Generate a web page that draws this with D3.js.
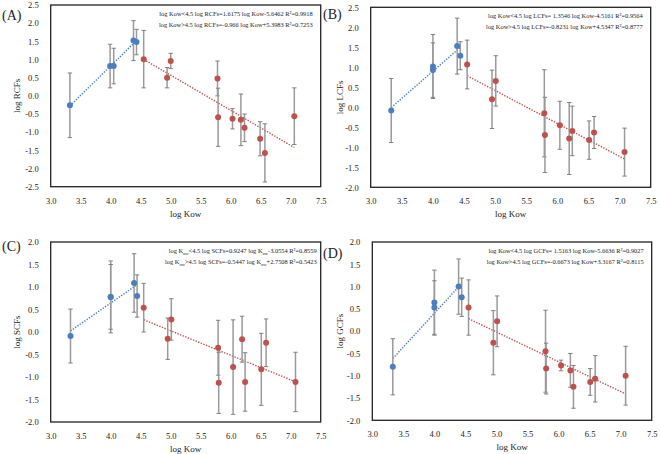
<!DOCTYPE html>
<html>
<head>
<meta charset="utf-8">
<script src="https://cdn.jsdelivr.net/npm/d3@7"></script>
<style>
  body { margin: 0; background: #fff; }
  text { font-family: "Liberation Serif", "Times New Roman", serif; fill: #222; }
</style>
</head>
<body>
<svg id="mainsvg"></svg>
<script>
// x values (log Kow); panel A has the two 4.0 points slightly apart
const kowA = [3.32, 3.99, 4.05, 4.38, 4.43, 4.55, 4.94, 5.0, 5.78, 5.79, 6.03, 6.17, 6.23, 6.49, 6.57, 7.06];
const kow  = [3.33, 4.0, 4.0, 4.39, 4.44, 4.55, 4.95, 5.01, 5.79, 5.8, 6.04, 6.19, 6.24, 6.51, 6.59, 7.08];

const rcf    = [-0.26, 0.82, 0.82, 1.52, 1.48, 1.01, 0.5, 0.96, 0.48, -0.59, -0.63, -0.66, -0.88, -1.18, -1.57, -0.56];
const rcfErr = [0.89, 0.6, 0.49, 0.55, 0.35, 0.79, 0.28, 0.21, 0.48, 0.8, 0.28, 0.71, 0.38, 0.47, 0.8, 0.78];
const lcf    = [-0.08, 1.02, 0.93, 1.53, 1.29, 1.07, 0.2, 0.66, -0.15, -0.69, -0.45, -0.78, -0.59, -0.82, -0.63, -1.12];
const lcfErr = [0.8, 0.8, 0.68, 0.7, 0.35, 0.61, 0.73, 0.63, 1.09, 0.94, 0.6, 0.9, 0.62, 0.48, 0.4, 0.6];
const scf    = [-0.09, 0.78, 0.78, 1.09, 0.8, 0.54, -0.15, 0.28, -0.35, -1.13, -0.78, -0.16, -1.11, -0.83, -0.24, -1.11];
const scfErr = [0.6, 0.8, 0.72, 0.65, 0.47, 0.54, 0.46, 0.46, 0.61, 0.68, 1.05, 0.51, 0.65, 0.8, 0.53, 0.66];
const gcf    = [-0.8, 0.64, 0.53, 1.0, 0.76, 0.53, -0.26, 0.22, -0.45, -0.84, -0.77, -0.88, -1.25, -1.14, -1.07, -1.0];
const gcfErr = [0.63, 0.73, 0.6, 0.62, 0.43, 0.62, 0.72, 0.57, 0.92, 0.57, 0.12, 0.38, 0.48, 0.3, 0.52, 0.66];

// regression [slope, intercept] for log Kow<4.5 and >4.5
const fitLow  = [[1.6175, -5.6462], [1.3546, -4.5161], [0.9247, -3.0554], [1.5163, -5.6636]];
const fitHigh = [[-0.966, 5.3983], [-0.8231, 4.5347], [-0.5447, 2.7508], [-0.6673, 3.3167]];

const panelLabels = ["(A)", "(B)", "(C)", "(D)"];
const yTitles = ["log RCFs", "log LCFs", "log SCFs", "log GCFs"];
const yDomains = [[-2.5, 2.5], [-2.0, 2.5], [-2.0, 2.0], [-2.0, 2.0]];
const xDomain = [3.0, 7.5];
const eqLow = [
  "log Kow<4.5  log RCFs=1.6175 log Kow-5.6462 R²=0.9918",
  "log Kow<4.5 log LCFs= 1.3546 log Kow-4.5161 R²=0.9564",
  null,
  "log Kow<4.5  log GCFs= 1.5163 log Kow-5.6636 R²=0.9027"
];
const eqHigh = [
  "log Kow>4.5  log RCFs=-0.966 log Kow+5.3983 R²=0.7253",
  "log Kow>4.5 log LCFs=-0.8231 log Kow+4.5347 R²=0.8777",
  null,
  "log Kow>4.5  log GCFs=-0.6673 log Kow+3.3167 R²=0.8115"
];

const svgWidth = 660, svgHeight = 454;
const blue = "#4a7ebf", red = "#c0504d";
let mainsvg = d3.select("#mainsvg").attr("width", svgWidth).attr("height", svgHeight);

// plot boxes [left, top, right, bottom]
const boxes = [
  [50.7, 5, 320.7, 186.7],
  [370.7, 7.3, 650.7, 187.3],
  [50.7, 242, 320.7, 422],
  [372.3, 242, 651.7, 420.3]
];
const panels = [
  {x: kowA, y: rcf, e: rcfErr},
  {x: kow, y: lcf, e: lcfErr},
  {x: kow, y: scf, e: scfErr},
  {x: kow, y: gcf, e: gcfErr}
];
const labelPos = [[2, 20], [323, 19], [2, 251], [323, 258]];
const yTitleX = [17, 340, 17, 340];

panels.forEach((p, i) => {
  const [l, t, r, b] = boxes[i];
  const scaleX = d3.scaleLinear().domain(xDomain).range([l, r]);
  const scaleY = d3.scaleLinear().domain(yDomains[i]).range([b, t]);
  const g = mainsvg.append("g");
  const fmt = d => d.toFixed(1);

  const yTicks = d3.range(yDomains[i][0], yDomains[i][1] + 0.01, 0.5);
  const xTicks = d3.range(xDomain[0], xDomain[1] + 0.01, 0.5);

  g.append("g").attr("transform", `translate(${l - 9},0)`)
    .call(d3.axisLeft(scaleY).tickValues(yTicks).tickSize(0).tickFormat(fmt))
    .call(a => a.select(".domain").remove())
    .selectAll("text").style("font-family", "Liberation Serif").style("font-size", "8.5px").attr("fill", "#222");
  g.append("g").attr("transform", `translate(0,${b + 8})`)
    .call(d3.axisBottom(scaleX).tickValues(xTicks).tickSize(0).tickFormat(fmt))
    .call(a => a.select(".domain").remove())
    .selectAll("text").style("font-family", "Liberation Serif").style("font-size", "8.5px").attr("fill", "#222");

  g.append("rect").attr("x", l).attr("y", t).attr("width", r - l).attr("height", b - t)
    .attr("fill", "none").attr("stroke", "#222").attr("stroke-width", 1.3);

  g.append("text").attr("x", (l + r) / 2).attr("y", b + 30).attr("text-anchor", "middle")
    .style("font-size", "9px").text("log Kow");
  g.append("text").attr("transform", `translate(${yTitleX[i]},${(t + b) / 2}) rotate(-90)`)
    .attr("text-anchor", "middle").attr("dy", "0.35em").style("font-size", "9px").text(yTitles[i]);
  g.append("text").attr("x", labelPos[i][0]).attr("y", labelPos[i][1])
    .style("font-size", "14px").text(panelLabels[i]);

  // equations
  const eq = g.append("g").style("font-size", "6.4px");
  if (eqLow[i]) {
    eq.append("text").attr("x", r - 8).attr("y", t + 11).attr("text-anchor", "end").text(eqLow[i]);
    eq.append("text").attr("x", r - 8).attr("y", t + 22).attr("text-anchor", "end").text(eqHigh[i]);
  } else {
    const lines = [
      ["<4.5  log SCFs=0.9247 log K", "-3.0554   R²=0.8559"],
      [">4.5  log SCFs=-0.5447 log K", "+2.7508 R²=0.5423"]
    ];
    lines.forEach((ln, k) => {
      const tx = eq.append("text").attr("x", r - 4).attr("y", t + 11 + k * 11).attr("text-anchor", "end");
      tx.append("tspan").text("log K");
      tx.append("tspan").attr("dy", 1.5).style("font-size", "4.5px").text("ow");
      tx.append("tspan").attr("dy", -1.5).text(ln[0]);
      tx.append("tspan").attr("dy", 1.5).style("font-size", "4.5px").text("ow");
      tx.append("tspan").attr("dy", -1.5).text(ln[1]);
    });
  }

  const pts = p.x.map((x, j) => ({x: x, y: p.y[j], e: p.e[j], low: x < 4.5}));

  // trend lines
  const lowPts = pts.filter(d => d.low), highPts = pts.filter(d => !d.low);
  [[lowPts, fitLow[i], blue], [highPts, fitHigh[i], red]].forEach(([s, f, c]) => {
    const ext = d3.extent(s, d => d.x);
    g.append("line")
      .attr("x1", scaleX(ext[0])).attr("y1", scaleY(f[0] * ext[0] + f[1]))
      .attr("x2", scaleX(ext[1])).attr("y2", scaleY(f[0] * ext[1] + f[1]))
      .attr("stroke", c).attr("stroke-width", 1.4).attr("stroke-dasharray", "1.4,1.4");
  });

  // error bars
  const eb = g.append("g").attr("stroke", "#9a9a9a");
  pts.forEach(d => {
    const cx = scaleX(d.x);
    eb.append("line").attr("x1", cx).attr("x2", cx)
      .attr("y1", scaleY(d.y + d.e)).attr("y2", scaleY(d.y - d.e)).attr("stroke-width", 1.5);
    [d.y + d.e, d.y - d.e].forEach(v => {
      eb.append("line").attr("x1", cx - 2.2).attr("x2", cx + 2.2)
        .attr("y1", scaleY(v)).attr("y2", scaleY(v)).attr("stroke", "#777").attr("stroke-width", 0.9);
    });
  });

  g.append("g").selectAll("circle").data(pts).enter().append("circle")
    .attr("cx", d => scaleX(d.x)).attr("cy", d => scaleY(d.y)).attr("r", 3)
    .attr("fill", d => d.low ? blue : red);
});
</script>
</body>
</html>
